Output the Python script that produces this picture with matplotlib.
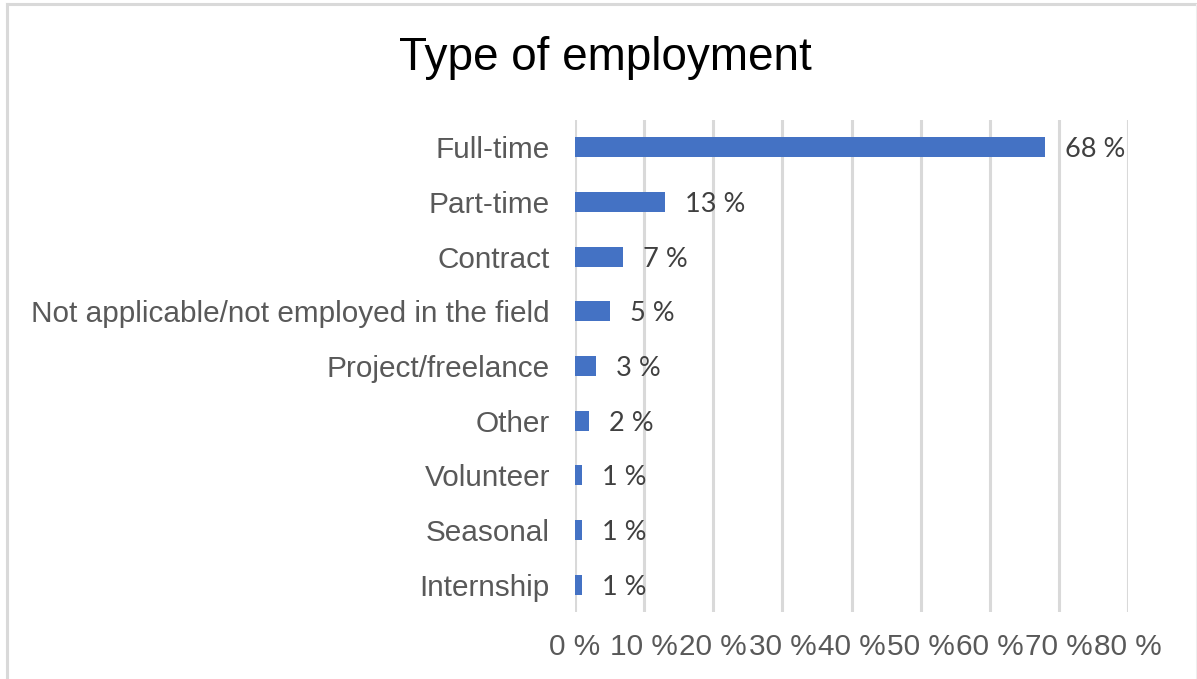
import matplotlib.pyplot as plt
from matplotlib.lines import Line2D

categories = ["Full-time", "Part-time", "Contract",
              "Not applicable/not employed in the field",
              "Project/freelance", "Other", "Volunteer", "Seasonal", "Internship"]
shares = [68, 13, 7, 5, 3, 2, 1, 1, 1]
x_ticks = [0, 10, 20, 30, 40, 50, 60, 70, 80]

bar_color = '#4472C4'
text_gray = '#595959'
grid_gray = '#d9d9d9'

plt.rcParams['font.family'] = ['Liberation Sans', 'DejaVu Sans']

fig = plt.figure(figsize=(11.97, 6.79), dpi=100, facecolor='white')
ax = fig.add_axes([575 / 1197, 1 - 612 / 679, (1128 - 575) / 1197, (612 - 120) / 679])

ypos = list(range(len(categories)))
ax.barh(ypos, shares, height=0.37, color=bar_color, zorder=3)

for y, v in zip(ypos, shares):
    ax.text(v + 2.9, y, f"{v} %", va='center_baseline', ha='left', fontsize=19.5,
            color='#404040', family=['Lato', 'DejaVu Sans'], zorder=4)

ax.set_ylim(len(categories) - 0.5, -0.5)
ax.set_xlim(0, 80)
ax.set_yticks(ypos)
ax.set_yticklabels(categories, fontsize=21.4, color=text_gray)
ax.set_xticks(x_ticks)
ax.set_xticklabels([f"{t} %" for t in x_ticks], fontsize=21.4, color=text_gray)
ax.tick_params(axis='y', length=0, pad=18)
ax.tick_params(axis='x', length=0, pad=15)

ax.grid(axis='x', color=grid_gray, linewidth=2.2, zorder=0)
for s in ax.spines.values():
    s.set_visible(False)
ax.set_facecolor('white')

fig.text(605 / 1197, 1 - 70 / 679, "Type of employment", ha='center',
         va='baseline', fontsize=33, color='black')

# outer chart frame: top and left edges, faint right edge
fig.add_artist(Line2D([6.5 / 1197, 1], [1 - 4 / 679, 1 - 4 / 679],
                      transform=fig.transFigure, color='#d9d9d9', linewidth=2.2))
fig.add_artist(Line2D([6.5 / 1197, 6.5 / 1197], [0, 1 - 4 / 679],
                      transform=fig.transFigure, color='#d9d9d9', linewidth=2.2))
fig.add_artist(Line2D([1196 / 1197, 1196 / 1197], [0, 1 - 4 / 679],
                      transform=fig.transFigure, color='#eeeeee', linewidth=0.8))

fig.savefig('out.png', dpi=100, facecolor='white')
